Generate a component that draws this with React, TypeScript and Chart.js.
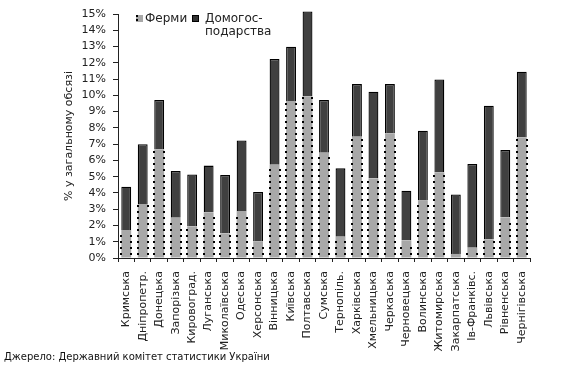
import React, { useEffect, useRef } from "react";
import { Chart, registerables } from "chart.js";

Chart.register(...registerables);

const regions = [
  "Кримська", "Дніпропетр.", "Донецька", "Запорізька", "Кировоград.", "Луганська",
  "Миколаївська", "Одеська", "Херсонська", "Вінницька", "Київська", "Полтавська",
  "Сумська", "Тернопіль.", "Харківська", "Хмельницька", "Черкаська", "Черновецька",
  "Волинська", "Житомирська", "Закарпатська", "Ів-Франківс.", "Львівська", "Рівненська",
  "Чернігівська",
];

const farms = [
  1.72, 3.32, 6.68, 2.48, 1.93, 2.81, 1.52, 2.89, 1.02, 5.74, 9.65, 9.95,
  6.47, 1.31, 7.46, 4.88, 7.66, 1.07, 3.56, 5.27, 0.25, 0.63, 1.15, 2.5, 7.42,
];

const households = [
  2.66, 3.68, 3.03, 2.87, 3.21, 2.87, 3.58, 4.34, 3.04, 6.49, 3.34, 5.2,
  3.24, 4.2, 3.23, 5.34, 3.03, 3.07, 4.27, 5.71, 3.66, 5.15, 8.21, 4.14, 4.03,
];

const yTicks = [0, 1, 2, 3, 4, 5, 6, 7, 8, 9, 10, 11, 12, 13, 14, 15];

const FONT = "'DejaVu Sans', Verdana, sans-serif";

const dotsPlugin = {
  id: "dotsEdges",
  afterDatasetsDraw(chart: any) {
    const meta = chart.getDatasetMeta(0);
    const ctx = chart.ctx;
    ctx.save();
    ctx.fillStyle = "#000";
    meta.data.forEach((bar: any) => {
      const p = bar.getProps(["x", "y", "base", "width"], true);
      const l = Math.round(p.x - p.width / 2);
      const r = Math.round(p.x + p.width / 2);
      for (let yy = p.base - 4; yy > p.y + 1; yy -= 6) {
        ctx.fillRect(l - 1, Math.round(yy) - 1, 2, 2);
        ctx.fillRect(r - 1, Math.round(yy) - 1, 2, 2);
      }
    });
    ctx.restore();
  },
};

const legendPlugin = {
  id: "customLegend",
  afterDraw(chart: any) {
    const ctx = chart.ctx;
    ctx.save();
    ctx.fillStyle = "#a8a8a8";
    ctx.fillRect(136, 15, 7, 7);
    ctx.fillStyle = "#000";
    ctx.fillRect(136, 15, 2, 2);
    ctx.fillRect(136, 19, 2, 2);
    ctx.fillStyle = "#333";
    ctx.fillRect(192, 15, 7, 7);
    ctx.strokeStyle = "#000";
    ctx.lineWidth = 1;
    ctx.strokeRect(192.5, 15.5, 6, 6);
    ctx.fillStyle = "#222";
    ctx.font = "12px " + FONT;
    ctx.textBaseline = "middle";
    ctx.textAlign = "left";
    ctx.fillText("Ферми", 145, 19);
    ctx.fillText("Домогос-", 205, 19);
    ctx.fillText("подарства", 205, 32);
    ctx.restore();
  },
};

export default function App() {
  const ref = useRef<HTMLCanvasElement>(null);
  useEffect(() => {
    if (!ref.current) return;
    const chart = new Chart(ref.current, {
      type: "bar",
      data: {
        labels: regions,
        datasets: [
          {
            label: "Ферми",
            data: farms,
            backgroundColor: "#a8a8a8",
            borderWidth: 0,
            barPercentage: 0.6,
            categoryPercentage: 1,
          },
          {
            label: "Домогосподарства",
            data: households,
            backgroundColor: "#404040",
            borderColor: "#000",
            borderWidth: 1.3,
            barPercentage: 0.6,
            categoryPercentage: 1,
            clip: false,
          } as any,
        ],
      },
      options: {
        animation: false,
        responsive: false,
        maintainAspectRatio: false,
        layout: { padding: { top: 14, right: 41, left: 0, bottom: 0 } },
        plugins: { legend: { display: false }, tooltip: { enabled: false } },
        scales: {
          x: {
            stacked: true,
            offset: true,
            grid: { drawOnChartArea: false, drawTicks: true, tickLength: 4, offset: true, color: "#222" },
            border: { color: "#222" },
            ticks: {
              autoSkip: false,
              minRotation: 90,
              maxRotation: 90,
              padding: 9,
              color: "#222",
              font: { family: FONT, size: 11 },
            },
            afterFit(scale: any) {
              scale.height = 113;
            },
          },
          y: {
            stacked: true,
            min: 0,
            max: 15,
            afterBuildTicks(scale: any) {
              scale.ticks = yTicks.map((v) => ({ value: v }));
            },
            grid: { drawOnChartArea: false, drawTicks: true, tickLength: 5, color: "#222" },
            border: { color: "#222" },
            ticks: {
              padding: 7,
              color: "#222",
              font: { family: FONT, size: 11 },
              callback: (v: any) => v + "%",
            },
            title: {
              display: true,
              text: "% у загальному обсязі",
              color: "#222",
              font: { family: FONT, size: 11 },
              padding: { top: 63, bottom: 0 },
            },
            afterFit(scale: any) {
              scale.width = 118;
            },
          },
        },
      },
      plugins: [dotsPlugin, legendPlugin],
    });
    return () => chart.destroy();
  }, []);
  return (
    <div style={{ position: "absolute", left: 0, top: 0, width: 571, height: 371, background: "#fff" }}>
      <canvas ref={ref} width={571} height={371} style={{ width: 571, height: 371 }} />
      <div
        style={{
          position: "absolute",
          left: 4,
          top: 351,
          fontFamily: FONT,
          fontSize: 10,
          color: "#111",
          whiteSpace: "nowrap",
        }}
      >
        Джерело: Державний комітет статистики України
      </div>
    </div>
  );
}
